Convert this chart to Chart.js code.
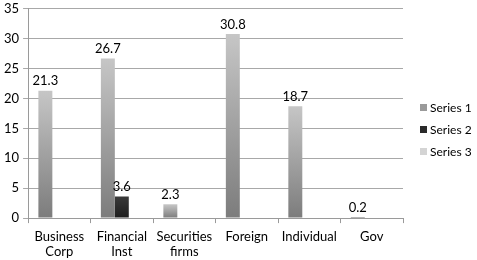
<!DOCTYPE html>
<html>
<head>
<meta charset="utf-8">
<script src="https://cdn.jsdelivr.net/npm/chart.js@4.4.0/dist/chart.umd.min.js"></script>
<style>
  html, body { margin: 0; padding: 0; background: #fff; overflow: hidden; }
  #wrap { width: 477px; height: 260px; overflow: hidden; }
  #chart { margin-top: -3px; display: block; }
</style>
</head>
<body>
<div id="wrap"><canvas id="chart" width="477" height="263"></canvas></div>
<script>
const categories = [["Business", "Corp"], ["Financial", "Inst"], ["Securities", "firms"], "Foreign", "Individual", "Gov"];
const series1 = [21.3, 26.7, 2.3, 30.8, 18.7, 0.2];
const series2 = [null, 3.6, null, null, null, null];
const series3 = [null, null, null, null, null, null];
const seriesNames = ["Series 1", "Series 2", "Series 3"];
const legendColors = ["#9a9a9a", "#2a2a2a", "#d4d4d4"];

const fontFamily = "Lato, 'Liberation Sans', sans-serif";

function barGradient(top, bottom) {
    return (context) => {
        const chart = context.chart;
        if (!chart.chartArea || context.type !== "data") return top;
        const yScale = chart.scales.y;
        const y1 = yScale.getPixelForValue(context.parsed.y);
        const y0 = yScale.getPixelForValue(0);
        if (!isFinite(y1) || Math.abs(y0 - y1) < 3) return "#6e6e6e";
        const g = chart.ctx.createLinearGradient(0, y1, 0, y0);
        g.addColorStop(0, top);
        g.addColorStop(1, bottom);
        return g;
    };
}

// value labels above bars
const valueLabels = {
    id: "valueLabels",
    afterDatasetsDraw(chart) {
        const ctx = chart.ctx;
        ctx.save();
        ctx.font = "13px " + fontFamily;
        ctx.fillStyle = "#000";
        ctx.textAlign = "center";
        ctx.textBaseline = "bottom";
        chart.data.datasets.forEach((ds, i) => {
            chart.getDatasetMeta(i).data.forEach((bar, j) => {
                const v = ds.data[j];
                if (v === null || v === undefined) return;
                ctx.fillText(v.toFixed(1), bar.x, bar.y - 3);
            });
        });
        ctx.restore();
    }
};

// legend drawn to the right of the plot
const sideLegend = {
    id: "sideLegend",
    afterDraw(chart) {
        const ctx = chart.ctx;
        const x = chart.chartArea.right + 17;
        ctx.save();
        ctx.font = "12px " + fontFamily;
        ctx.textBaseline = "middle";
        ctx.textAlign = "left";
        seriesNames.forEach((name, i) => {
            const y = 111 + i * 22;
            ctx.fillStyle = legendColors[i];
            ctx.fillRect(x, y - 4, 7, 7);
            ctx.fillStyle = "#000";
            ctx.fillText(name, x + 10, y);
        });
        ctx.restore();
    }
};

const font = { family: fontFamily, size: 13 };

new Chart(document.getElementById("chart"), {
    type: "bar",
    data: {
        labels: categories,
        datasets: [
            { label: seriesNames[0], data: series1, backgroundColor: barGradient("#c6c6c6", "#7c7c7c") },
            { label: seriesNames[1], data: series2, backgroundColor: barGradient("#3a3a3a", "#1e1e1e") },
            { label: seriesNames[2], data: series3, backgroundColor: legendColors[2] }
        ]
    },
    options: {
        responsive: false,
        animation: false,
        layout: { padding: { top: 0, right: 74, left: 0, bottom: -5 } },
        datasets: { bar: { categoryPercentage: 0.67, barPercentage: 1 } },
        plugins: {
            legend: { display: false },
            tooltip: { enabled: false }
        },
        scales: {
            x: {
                grid: { display: true, drawOnChartArea: false, offset: true, color: "#9a9a9a", tickLength: 5 },
                border: { color: "#9a9a9a" },
                ticks: { font: { family: fontFamily, size: 13, lineHeight: 1.15 }, color: "#000", maxRotation: 0, autoSkip: false, padding: 6 }
            },
            y: {
                min: 0,
                max: 35,
                ticks: { stepSize: 5, font: font, color: "#000", padding: 4 },
                grid: { color: "#a8a8a8", tickLength: 5 },
                border: { color: "#9a9a9a" }
            }
        }
    },
    plugins: [valueLabels, sideLegend]
});
</script>
</body>
</html>
